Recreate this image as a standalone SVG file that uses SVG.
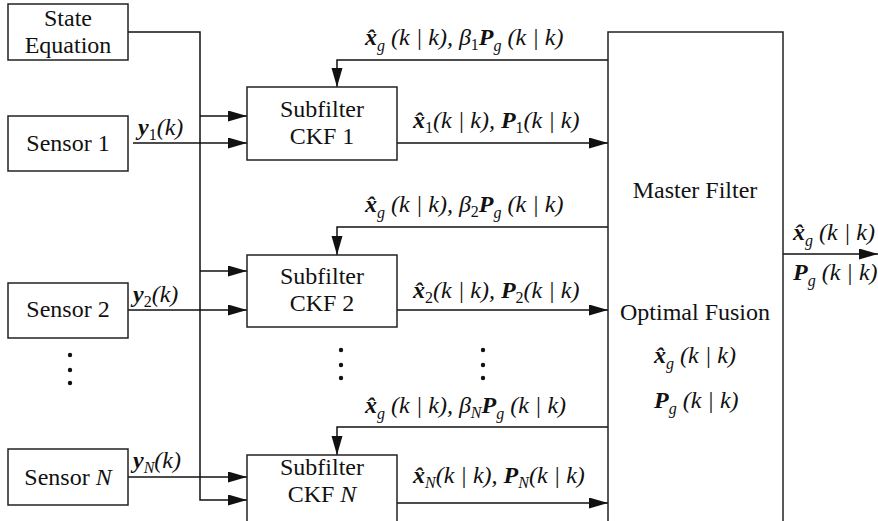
<svg xmlns="http://www.w3.org/2000/svg" width="878" height="521" viewBox="0 0 878 521" font-family="Liberation Serif" font-size="24" fill="#111">
<defs>
<marker id="ah" markerUnits="userSpaceOnUse" markerWidth="20" markerHeight="12" refX="19" refY="5.5" orient="auto">
<path d="M0,0 L19,5.5 L0,11 z" fill="#111"/>
</marker>
</defs>

<g id="connectors" fill="none" stroke="#111" stroke-width="1.5" marker-end="url(#ah)">
<path d="M128,32 H200 V500 H247"/>
<path d="M200,116 H247"/>
<path d="M200,271 H247"/>
<path d="M133,143 H247"/>
<path d="M128,310 H247"/>
<path d="M128,477 H247"/>
<path d="M608,60 H337 V87"/>
<path d="M608,227 H337 V255"/>
<path d="M608,427 H337 V455"/>
<path d="M397,143 H608"/>
<path d="M397,310 H608"/>
<path d="M397,503 H608"/>
<path d="M783,254 H878"/>
</g>

<g id="state-equation" text-anchor="middle">
<rect x="8" y="4" width="120" height="56" fill="#fff" stroke="#222" stroke-width="1.5"/>
<text x="68" y="26">State</text>
<text x="68" y="53">Equation</text>
</g>

<g id="sensor-1" text-anchor="middle">
<rect x="8" y="116" width="120" height="55" fill="#fff" stroke="#222" stroke-width="1.5"/>
<text x="68" y="151">Sensor 1</text>
</g>
<g id="sensor-2" text-anchor="middle">
<rect x="8" y="283" width="120" height="55" fill="#fff" stroke="#222" stroke-width="1.5"/>
<text x="68" y="317">Sensor 2</text>
</g>
<g id="sensor-n" text-anchor="middle">
<rect x="8" y="449" width="120" height="56" fill="#fff" stroke="#222" stroke-width="1.5"/>
<text x="68" y="485">Sensor <tspan font-style="italic">N</tspan></text>
</g>

<g id="subfilter-1" text-anchor="middle">
<rect x="247" y="87" width="150" height="73" fill="#fff" stroke="#222" stroke-width="1.5"/>
<text x="322" y="117">Subfilter</text>
<text x="322" y="144">CKF 1</text>
</g>
<g id="subfilter-2" text-anchor="middle">
<rect x="247" y="255" width="150" height="72" fill="#fff" stroke="#222" stroke-width="1.5"/>
<text x="322" y="284">Subfilter</text>
<text x="322" y="311">CKF 2</text>
</g>
<g id="subfilter-n" text-anchor="middle">
<rect x="247" y="455" width="150" height="70" fill="#fff" stroke="#222" stroke-width="1.5"/>
<text x="322" y="475">Subfilter</text>
<text x="322" y="502">CKF <tspan font-style="italic">N</tspan></text>
</g>

<g id="master-filter">
<rect x="608" y="32" width="175" height="490" fill="#fff" stroke="#222" stroke-width="1.5"/>
<text x="695" y="198" text-anchor="middle">Master Filter</text>
<text x="695" y="320" text-anchor="middle">Optimal Fusion</text>
<text x="654" y="363" font-style="italic"><tspan font-weight="bold">x̂</tspan><tspan font-size="16" dy="6">g</tspan><tspan dy="-6"> (k | k)</tspan></text>
<text x="654" y="408" font-style="italic"><tspan font-weight="bold">P</tspan><tspan font-size="16" dy="6">g</tspan><tspan dy="-6"> (k | k)</tspan></text>
</g>

<g id="labels" font-style="italic">
<text x="138" y="135"><tspan font-weight="bold">y</tspan><tspan font-size="16" font-style="normal" dy="5">1</tspan><tspan dy="-5">(k)</tspan></text>
<text x="133" y="302"><tspan font-weight="bold">y</tspan><tspan font-size="16" font-style="normal" dy="5">2</tspan><tspan dy="-5">(k)</tspan></text>
<text x="133" y="468"><tspan font-weight="bold">y</tspan><tspan font-size="16" dy="5">N</tspan><tspan dy="-5">(k)</tspan></text>

<text x="365" y="45"><tspan font-weight="bold">x̂</tspan><tspan font-size="16" dy="6">g</tspan><tspan dy="-6"> (k | k), β</tspan><tspan font-size="16" font-style="normal" dy="5">1</tspan><tspan font-weight="bold" dy="-5">P</tspan><tspan font-size="16" dy="6">g</tspan><tspan dy="-6"> (k | k)</tspan></text>
<text x="365" y="212"><tspan font-weight="bold">x̂</tspan><tspan font-size="16" dy="6">g</tspan><tspan dy="-6"> (k | k), β</tspan><tspan font-size="16" font-style="normal" dy="5">2</tspan><tspan font-weight="bold" dy="-5">P</tspan><tspan font-size="16" dy="6">g</tspan><tspan dy="-6"> (k | k)</tspan></text>
<text x="365" y="413"><tspan font-weight="bold">x̂</tspan><tspan font-size="16" dy="6">g</tspan><tspan dy="-6"> (k | k), β</tspan><tspan font-size="16" dy="5">N</tspan><tspan font-weight="bold" dy="-5">P</tspan><tspan font-size="16" dy="6">g</tspan><tspan dy="-6"> (k | k)</tspan></text>

<text x="413" y="128"><tspan font-weight="bold">x̂</tspan><tspan font-size="16" font-style="normal" dy="5">1</tspan><tspan dy="-5">(k | k), </tspan><tspan font-weight="bold">P</tspan><tspan font-size="16" font-style="normal" dy="5">1</tspan><tspan dy="-5">(k | k)</tspan></text>
<text x="413" y="298"><tspan font-weight="bold">x̂</tspan><tspan font-size="16" font-style="normal" dy="5">2</tspan><tspan dy="-5">(k | k), </tspan><tspan font-weight="bold">P</tspan><tspan font-size="16" font-style="normal" dy="5">2</tspan><tspan dy="-5">(k | k)</tspan></text>
<text x="413" y="483"><tspan font-weight="bold">x̂</tspan><tspan font-size="16" dy="5">N</tspan><tspan dy="-5">(k | k), </tspan><tspan font-weight="bold">P</tspan><tspan font-size="16" dy="5">N</tspan><tspan dy="-5">(k | k)</tspan></text>

<text x="793" y="240"><tspan font-weight="bold">x̂</tspan><tspan font-size="16" dy="6">g</tspan><tspan dy="-6"> (k | k)</tspan></text>
<text x="793" y="280"><tspan font-weight="bold">P</tspan><tspan font-size="16" dy="6">g</tspan><tspan dy="-6"> (k | k)</tspan></text>
</g>

<g id="ellipses">
<circle cx="70" cy="355" r="2.2"/>
<circle cx="70" cy="370" r="2.2"/>
<circle cx="70" cy="383" r="2.2"/>
<circle cx="341" cy="350" r="2.2"/>
<circle cx="341" cy="365" r="2.2"/>
<circle cx="341" cy="378" r="2.2"/>
<circle cx="483" cy="350" r="2.2"/>
<circle cx="483" cy="365" r="2.2"/>
<circle cx="483" cy="378" r="2.2"/>
</g>
</svg>
